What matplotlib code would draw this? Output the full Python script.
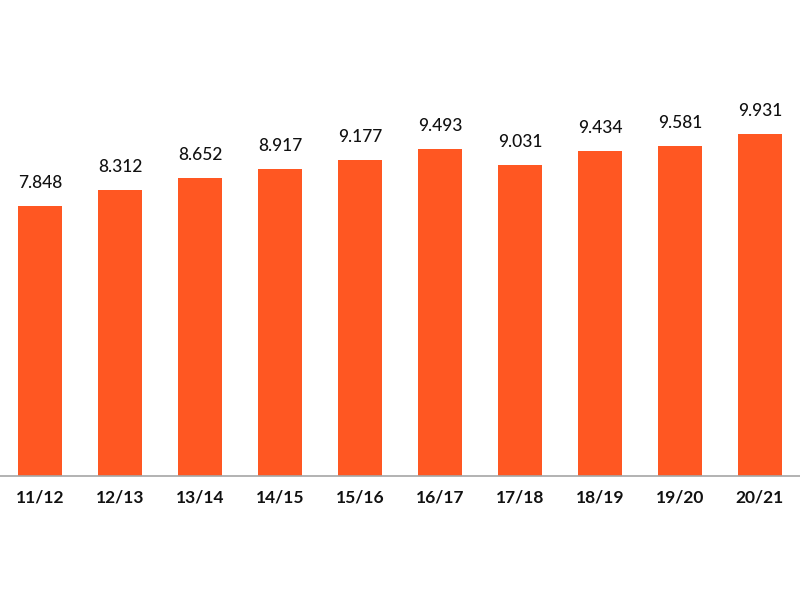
import matplotlib
matplotlib.use("Agg")
import matplotlib.pyplot as plt

categories = ["11/12", "12/13", "13/14", "14/15", "15/16", "16/17", "17/18", "18/19", "19/20", "20/21"]
values = [7.848, 8.312, 8.652, 8.917, 9.177, 9.493, 9.031, 9.434, 9.581, 9.931]
value_labels = ["7.848", "8.312", "8.652", "8.917", "9.177", "9.493", "9.031", "9.434", "9.581", "9.931"]

fig = plt.figure(figsize=(8, 6), dpi=100)
ax = fig.add_axes([0, (600 - 476) / 600, 1, 476 / 600])
x = list(range(len(categories)))
bars = ax.bar(x, values, width=0.55, color="#FF5722", zorder=2)
ax.set_xlim(-0.5, len(categories) - 0.5)
ax.set_ylim(0, 476 / 34.45)

for xi, v, lab in zip(x, values, value_labels):
    ax.annotate(lab, (xi, v), xytext=(0, 13), textcoords="offset points",
                ha="center", va="baseline", fontsize=12.5, family="Lato",
                fontweight="medium", color="#111111")

ax.set_xticks(x)
ax.set_xticklabels(categories, fontsize=12.5, family="Lato", fontweight="bold", color="#111111")
ax.tick_params(axis="x", length=0, pad=10)
ax.set_yticks([])
for s in ["top", "left", "right"]:
    ax.spines[s].set_visible(False)
ax.spines["bottom"].set_color("#a6a6a6")
ax.spines["bottom"].set_linewidth(1.2)

fig.savefig("out.png", dpi=100, facecolor="white")
